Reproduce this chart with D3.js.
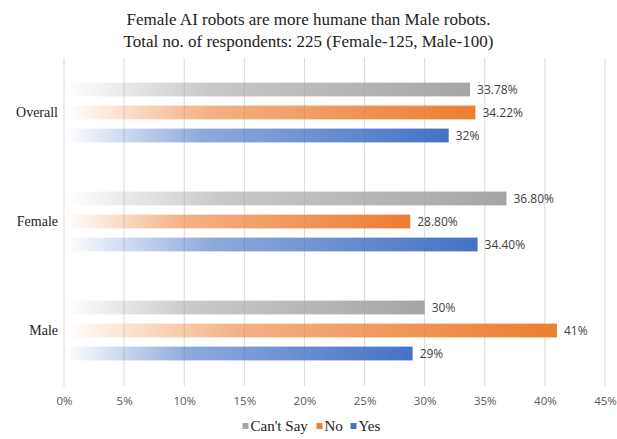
<!DOCTYPE html>
<html>
<head>
<meta charset="utf-8">
<script src="https://cdn.jsdelivr.net/npm/d3@7"></script>
<style>
  body { margin: 0; background: #fff; }
</style>
</head>
<body>
<div id="chart"></div>
<script>
// data
const categories = ['Overall', 'Female', 'Male'];
const seriesNames = ["Can't Say", 'No', 'Yes'];
const cantSay = [33.78, 36.80, 30];
const no = [34.22, 28.80, 41];
const yes = [32, 34.40, 29];
const valueLabels = [
    ['33.78%', '36.80%', '30%'],
    ['34.22%', '28.80%', '41%'],
    ['32%', '34.40%', '29%']
];
const xTicks = [0, 5, 10, 15, 20, 25, 30, 35, 40, 45];
const colors = ['#a5a5a5', '#ed7d31', '#4472c4'];

const W = 617, H = 439;
const margin = {top: 58, right: 12, bottom: 54, left: 64};
const width = W - margin.left - margin.right;
const height = H - margin.top - margin.bottom;

const svg = d3.select('#chart').append('svg')
    .attr('width', W)
    .attr('height', H);

// gradients, one per series
const defs = svg.append('defs');
colors.forEach((c, i) => {
    const g = defs.append('linearGradient')
        .attr('id', 'grad' + i)
        .attr('x1', '0%').attr('x2', '100%')
        .attr('y1', '0%').attr('y2', '0%');
    g.append('stop').attr('offset', '0%').attr('stop-color', c).attr('stop-opacity', 0);
    g.append('stop').attr('offset', '35%').attr('stop-color', c).attr('stop-opacity', 0.6);
    g.append('stop').attr('offset', '100%').attr('stop-color', c).attr('stop-opacity', 1);
});

// title
const title = svg.append('text')
    .attr('x', W / 2)
    .attr('text-anchor', 'middle')
    .style('font-family', '"Liberation Serif", "Times New Roman", serif')
    .style('font-size', '17px')
    .attr('fill', '#222');
title.append('tspan').attr('x', W / 2).attr('y', 25)
    .text('Female AI robots are more humane than Male robots.');
title.append('tspan').attr('x', W / 2).attr('y', 47)
    .text('Total no. of respondents: 225 (Female-125, Male-100)');

const g = svg.append('g')
    .attr('transform', 'translate(' + margin.left + ',' + margin.top + ')');

const xScale = d3.scaleLinear()
    .domain([0, 45])
    .range([0, width]);

const yScale = d3.scaleBand()
    .domain(categories)
    .range([0, height]);

const ySub = d3.scaleBand()
    .domain(seriesNames)
    .range([0, yScale.bandwidth()])
    .paddingInner(0.4)
    .paddingOuter(1.07);

// gridlines
g.append('g').attr('class', 'grid')
    .selectAll('line')
    .data(xTicks)
    .join('line')
    .attr('x1', d => xScale(d)).attr('x2', d => xScale(d))
    .attr('y1', 0).attr('y2', height + 1)
    .attr('stroke', '#d9d9d9')
    .attr('stroke-width', 1);

// x axis labels
const xAxis = d3.axisBottom(xScale)
    .tickValues(xTicks)
    .tickFormat(d => d + '%')
    .tickSize(0)
    .tickPadding(12);

const xAxisGroup = g.append('g')
    .attr('class', 'axis x-axis')
    .attr('transform', 'translate(0,' + height + ')')
    .call(xAxis);
xAxisGroup.select('.domain').remove();
xAxisGroup.selectAll('text')
    .style('font-family', '"Open Sans", "Liberation Sans", sans-serif')
    .style('font-size', '11.5px')
    .attr('fill', '#595959');

// category labels
g.append('g').selectAll('text')
    .data(categories)
    .join('text')
    .attr('x', -6)
    .attr('y', d => yScale(d) + yScale.bandwidth() / 2)
    .attr('dy', '0.35em')
    .attr('text-anchor', 'end')
    .style('font-family', '"Liberation Serif", "Times New Roman", serif')
    .style('font-size', '14px')
    .attr('fill', '#222')
    .text(d => d);

// bars
const seriesValues = [cantSay, no, yes];
const barData = [];
categories.forEach((cat, ci) => {
    seriesNames.forEach((s, si) => {
        barData.push({cat, s, si, v: seriesValues[si][ci], label: valueLabels[si][ci]});
    });
});

const bars = g.append('g').selectAll('g')
    .data(barData)
    .join('g')
    .attr('transform', d => 'translate(0,' + (yScale(d.cat) + ySub(d.s)) + ')');

bars.append('rect')
    .attr('x', xScale(0) + 1)
    .attr('y', 0)
    .attr('width', d => xScale(d.v) - xScale(0) - 1)
    .attr('height', ySub.bandwidth())
    .attr('fill', d => 'url(#grad' + d.si + ')');

bars.append('text')
    .attr('x', d => xScale(d.v) + 7)
    .attr('y', ySub.bandwidth() / 2)
    .attr('dy', '0.35em')
    .style('font-family', '"Open Sans", "Liberation Sans", sans-serif')
    .style('font-size', '12px')
    .attr('fill', '#404040')
    .text(d => d.label);

// legend
const legend = svg.append('g')
    .attr('transform', 'translate(' + (W / 2 - 66) + ',' + 431 + ')');
const legendX = [0, 74, 108];
seriesNames.forEach((s, i) => {
    const item = legend.append('g').attr('transform', 'translate(' + legendX[i] + ',0)');
    item.append('rect')
        .attr('x', 0).attr('y', -8)
        .attr('width', 6).attr('height', 6)
        .attr('fill', colors[i]);
    item.append('text')
        .attr('x', 8).attr('y', 0)
        .style('font-family', '"Liberation Serif", "Times New Roman", serif')
        .style('font-size', '15px')
        .attr('fill', '#222')
        .text(s);
});
</script>
</body>
</html>
